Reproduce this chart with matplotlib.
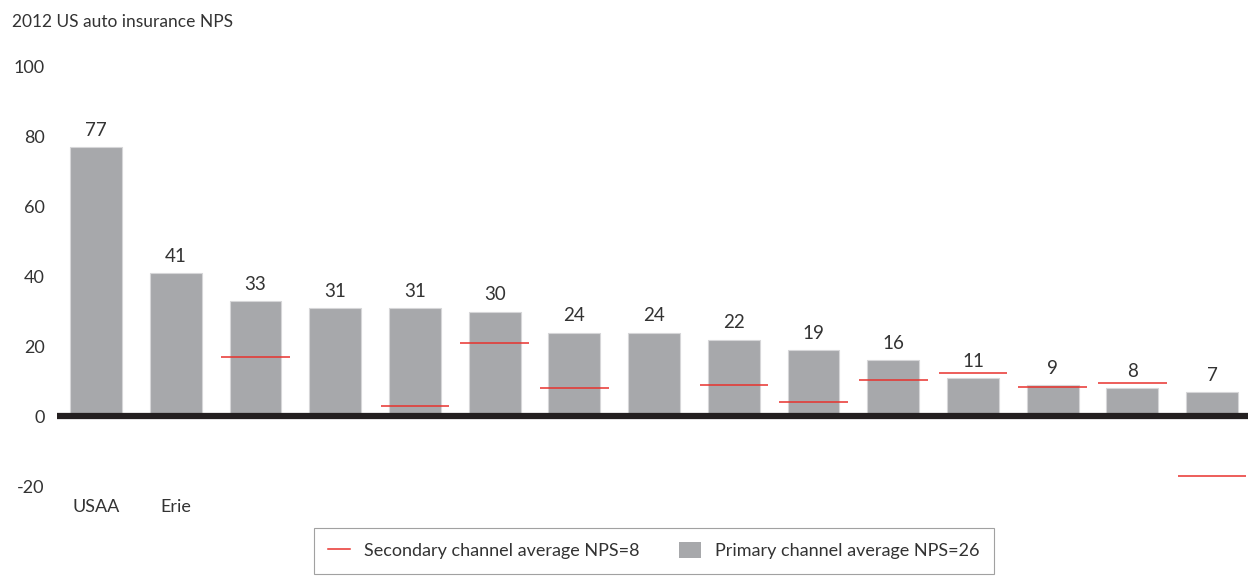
import matplotlib.pyplot as plt
import numpy as np
from matplotlib.lines import Line2D
from matplotlib.patches import Patch

plt.rcParams['font.family'] = ['Lato', 'DejaVu Sans']
plt.rcParams['axes.unicode_minus'] = False

# 2012 US auto insurance NPS by carrier
carriers = ["USAA", "Erie", "", "", "", "", "", "", "", "", "", "", "", "", ""]
primary_nps = [77, 41, 33, 31, 31, 30, 24, 24, 22, 19, 16, 11, 9, 8, 7]
secondary_nps = [None, None, 17, None, 3, 21, 8, None, 9, 4, 10.5, 12.5, 8.5, 9.5, -17]

bar_color = '#a7a8ab'
red = '#e8322d'
text_color = '#333333'

fig = plt.figure(figsize=(12.48, 5.82), dpi=100)
ax = fig.add_axes([57 / 1248, 87 / 582, 1 - 57 / 1248, 435 / 582])

x = np.arange(len(primary_nps))
ax.bar(x, primary_nps, width=0.65, color=bar_color, edgecolor='#d6d6d8', linewidth=0.8, zorder=2)

for xi, v in zip(x, primary_nps):
    ax.annotate(str(v), (xi, v), xytext=(0, 6), textcoords='offset points',
                ha='center', va='bottom', fontsize=13.5, color=text_color)

for xi, s in zip(x, secondary_nps):
    if s is not None:
        ax.hlines(s, xi - 0.43, xi + 0.43, color=red, linewidth=1.1, zorder=3)

ax.axhline(0, color='#231f20', linewidth=4.5, zorder=4)

ax.set_xlim(-0.49, 14.45)
ax.set_ylim(-22.5, 102)
ax.set_yticks([-20, 0, 20, 40, 60, 80, 100])
ax.tick_params(axis='y', length=0, pad=9, labelsize=13, labelcolor=text_color)
ax.set_xticks(x)
ax.set_xticklabels(carriers)
ax.tick_params(axis='x', length=0, pad=3, labelsize=13, labelcolor=text_color)
for side in ['top', 'right', 'left', 'bottom']:
    ax.spines[side].set_visible(False)

fig.text(12 / 1248, 1 - 22 / 582, "2012 US auto insurance NPS", fontsize=12.5,
         color=text_color, va='center', ha='left')

handles = [Line2D([0], [0], color=red, linewidth=1.1),
           Patch(facecolor=bar_color, edgecolor='none')]
labels = ["Secondary channel average NPS=8", "Primary channel average NPS=26"]
leg = fig.legend(handles, labels, loc='upper center', ncol=2,
                 bbox_to_anchor=(654 / 1248, 1 - 524 / 582), frameon=True,
                 fancybox=False, fontsize=13, handlelength=1.2, handleheight=1.0,
                 columnspacing=2.2, borderpad=0.8, borderaxespad=0.2,
                 labelcolor=text_color)
leg.get_frame().set_edgecolor('#8a8a8a')
leg.get_frame().set_linewidth(0.8)

fig.savefig('out.png', dpi=100)
